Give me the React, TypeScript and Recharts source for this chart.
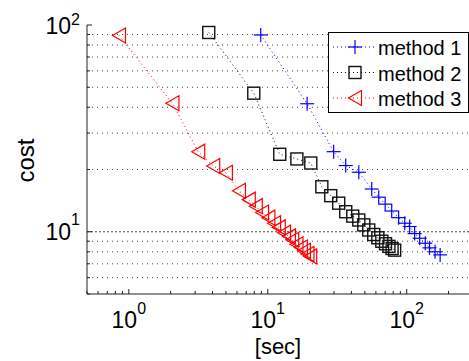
import React from "react";
import {
  ScatterChart,
  Scatter,
  XAxis,
  YAxis,
  ReferenceLine,
  Legend,
} from "recharts";

// cost vs. time
const method1X = [8.9, 19.2, 29.8, 36.4, 45.2, 56, 62.9, 70, 78, 87.5, 96.8, 105, 114, 124, 136, 146, 160, 174];
const method1Y = [89.5, 41.6, 24.4, 20.9, 19.4, 16.1, 14.7, 13.6, 12.6, 11.7, 11.0, 10.6, 9.8, 9.3, 8.8, 8.36, 8.0, 7.73];

const method2X = [3.76, 7.93, 12.2, 16.2, 20.4, 24.5, 28.4, 32.4, 36.4, 40.9, 45.2, 49.1, 53.3, 57.9, 62, 66.2, 70.4, 74.5, 78.5, 81.9];
const method2Y = [92, 46.8, 23.7, 22.5, 21.5, 16.5, 14.95, 13.75, 12.5, 11.9, 11.4, 10.8, 10.2, 9.7, 9.35, 9.0, 8.75, 8.5, 8.3, 8.15];

const method3X = [0.85, 2.06, 3.16, 4.05, 5.0, 6.2, 7.3, 8.2, 9.1, 10.1, 11.1, 12.0, 13.1, 14.2, 15.0, 16.1, 17.3, 18.2, 19.3, 20.2];
const method3Y = [89, 41.8, 24.4, 20.8, 19.3, 15.8, 14.3, 13.3, 12.4, 11.7, 11.0, 10.5, 9.9, 9.5, 9.15, 8.7, 8.4, 8.1, 7.8, 7.6];

const xTicks = [0.5, 0.6, 0.7, 0.8, 0.9, 1, 2, 3, 4, 5, 6, 7, 8, 9, 10, 20, 30, 40, 50, 60, 70, 80, 90, 100, 200, 300];
const yTicks = [5, 6, 7, 8, 9, 10, 20, 30, 40, 50, 60, 70, 80, 90, 100];
const yGrid = [6, 7, 8, 9, 10, 20, 30, 40, 50, 60, 70, 80, 90];
const xMajor: Record<number, string> = { 1: "0", 10: "1", 100: "2" };
const yMajor: Record<number, string> = { 10: "1", 100: "2" };

const FONT = "'Liberation Sans', Arial, Helvetica, sans-serif";

const zip = (xs: number[], ys: number[]) => xs.map((x, i) => ({ x, y: ys[i] }));

const series = [
  { name: "method 1", color: "#0000ff", marker: "plus", data: zip(method1X, method1Y) },
  { name: "method 2", color: "#111111", marker: "square", data: zip(method2X, method2Y) },
  { name: "method 3", color: "#ff0000", marker: "tri", data: zip(method3X, method3Y) },
];

const renderMarker = (kind: string, cx: number, cy: number, color: string) => {
  if (kind === "plus") {
    return (
      <g>
        <line x1={cx - 7} y1={cy} x2={cx + 7} y2={cy} stroke={color} strokeWidth={1.2} />
        <line x1={cx} y1={cy - 7} x2={cx} y2={cy + 7} stroke={color} strokeWidth={1.2} />
      </g>
    );
  }
  if (kind === "square") {
    return <rect x={cx - 6} y={cy - 6} width={12} height={12} fill="none" stroke={color} strokeWidth={1.4} />;
  }
  return (
    <polygon
      points={`${cx - 6.5},${cy} ${cx + 6.5},${cy - 7.5} ${cx + 6.5},${cy + 7.5}`}
      fill="none"
      stroke={color}
      strokeWidth={1.2}
    />
  );
};

const Pow10 = ({ x, y, exp, anchor, expDy }: any) => (
  <text x={x} y={y} textAnchor={anchor} fontFamily={FONT} fill="#000">
    <tspan fontSize={23}>10</tspan>
    <tspan fontSize={16} dy={expDy}>{exp}</tspan>
  </text>
);

const XTick = (props: any) => {
  const { x, y, payload, top } = props;
  const v = payload.value;
  const exp = xMajor[v];
  const len = exp ? 5 : 3;
  if (top) {
    return <line x1={x} y1={y} x2={x} y2={y + len} stroke="#222" />;
  }
  return (
    <g>
      <line x1={x} y1={y} x2={x} y2={y - len} stroke="#222" />
      {exp && <Pow10 x={x} y={y + 34} exp={exp} anchor="middle" expDy={-14.5} />}
    </g>
  );
};

const YTick = (props: any) => {
  const { x, y, payload } = props;
  const v = payload.value;
  const exp = yMajor[v];
  const len = exp ? 5 : 3;
  return (
    <g>
      <line x1={x} y1={y} x2={x + len} y2={y} stroke="#222" />
      {exp && <Pow10 x={x - 7} y={y + 8.5} exp={exp} anchor="end" expDy={v === 100 ? -9 : -15.5} />}
    </g>
  );
};

const LegendBox = () => (
  <svg width={141} height={81} style={{ display: "block" }}>
    <rect x={0.5} y={0.5} width={140} height={80} fill="#fff" stroke="#000" />
    {series.map((s, i) => {
      const cy = 15 + i * 25.5;
      return (
        <g key={s.name}>
          <line x1={5} y1={cy} x2={49} y2={cy} stroke={s.color} strokeDasharray="1 3" />
          {renderMarker(s.marker, 27, cy, s.color)}
          <text x={50} y={cy + 8} fontSize={20} fontFamily={FONT} fill="#000">
            {s.name}
          </text>
        </g>
      );
    })}
  </svg>
);

const App = () => {
  return (
    <div
      style={{
        position: "absolute",
        left: 0,
        top: 0,
        width: 469,
        height: 361,
        overflow: "hidden",
        background: "#fff",
        fontFamily: FONT,
      }}
    >
      <ScatterChart width={480} height={361} margin={{ top: 25, right: 7, left: 0, bottom: 0 }}>
        <XAxis
          dataKey="x"
          type="number"
          scale="log"
          domain={[0.5, 300]}
          ticks={xTicks}
          interval={0}
          allowDataOverflow
          height={67}
          tickSize={0}
          tickMargin={0}
          tickLine={false}
          axisLine={{ stroke: "#222" }}
          tick={(p: any) => <XTick {...p} />}
          label={{
            content: ({ viewBox }: any) => (
              <text
                x={viewBox.x + viewBox.width / 2 - 2}
                y={viewBox.y + 60}
                textAnchor="middle"
                fontSize={22}
                fontFamily={FONT}
                fill="#000"
              >
                [sec]
              </text>
            ),
          }}
        />
        <XAxis
          xAxisId="top"
          dataKey="x"
          type="number"
          orientation="top"
          scale="log"
          domain={[0.5, 300]}
          ticks={xTicks}
          interval={0}
          allowDataOverflow
          height={0}
          tickSize={0}
          tickMargin={0}
          tickLine={false}
          axisLine={{ stroke: "#222" }}
          tick={(p: any) => <XTick {...p} top />}
        />
        <YAxis
          dataKey="y"
          type="number"
          scale="log"
          domain={[5, 100]}
          ticks={yTicks}
          interval={0}
          allowDataOverflow
          width={87}
          tickSize={0}
          tickMargin={0}
          tickLine={false}
          axisLine={{ stroke: "#222" }}
          tick={(p: any) => <YTick {...p} />}
          label={{
            content: ({ viewBox }: any) => {
              const cx = viewBox.x + 25;
              const cy = viewBox.y + viewBox.height / 2 + 1;
              return (
                <text
                  x={cx}
                  y={cy}
                  transform={`rotate(-90 ${cx} ${cy})`}
                  textAnchor="middle"
                  dominantBaseline="central"
                  fontSize={24}
                  fontFamily={FONT}
                  fill="#000"
                >
                  cost
                </text>
              );
            },
          }}
        />
        {yGrid.map((v) => (
          <ReferenceLine
            key={v}
            y={v}
            stroke="#444"
            strokeDasharray={v === 10 ? "2 2" : "1 4"}
          />
        ))}
        {series.map((s) => (
          <Scatter
            key={s.name}
            name={s.name}
            data={s.data}
            fill={s.color}
            line={{ stroke: s.color, strokeWidth: 1, strokeDasharray: "1 3" }}
            lineType="joint"
            isAnimationActive={false}
            shape={(p: any) => renderMarker(s.marker, p.cx, p.cy, s.color)}
          />
        ))}
        <Legend
          layout="horizontal"
          verticalAlign="middle"
          align="center"
          wrapperStyle={{ left: 328, top: 32, width: 141, height: 81 }}
          content={() => <LegendBox />}
        />
      </ScatterChart>
    </div>
  );
};

export default App;
